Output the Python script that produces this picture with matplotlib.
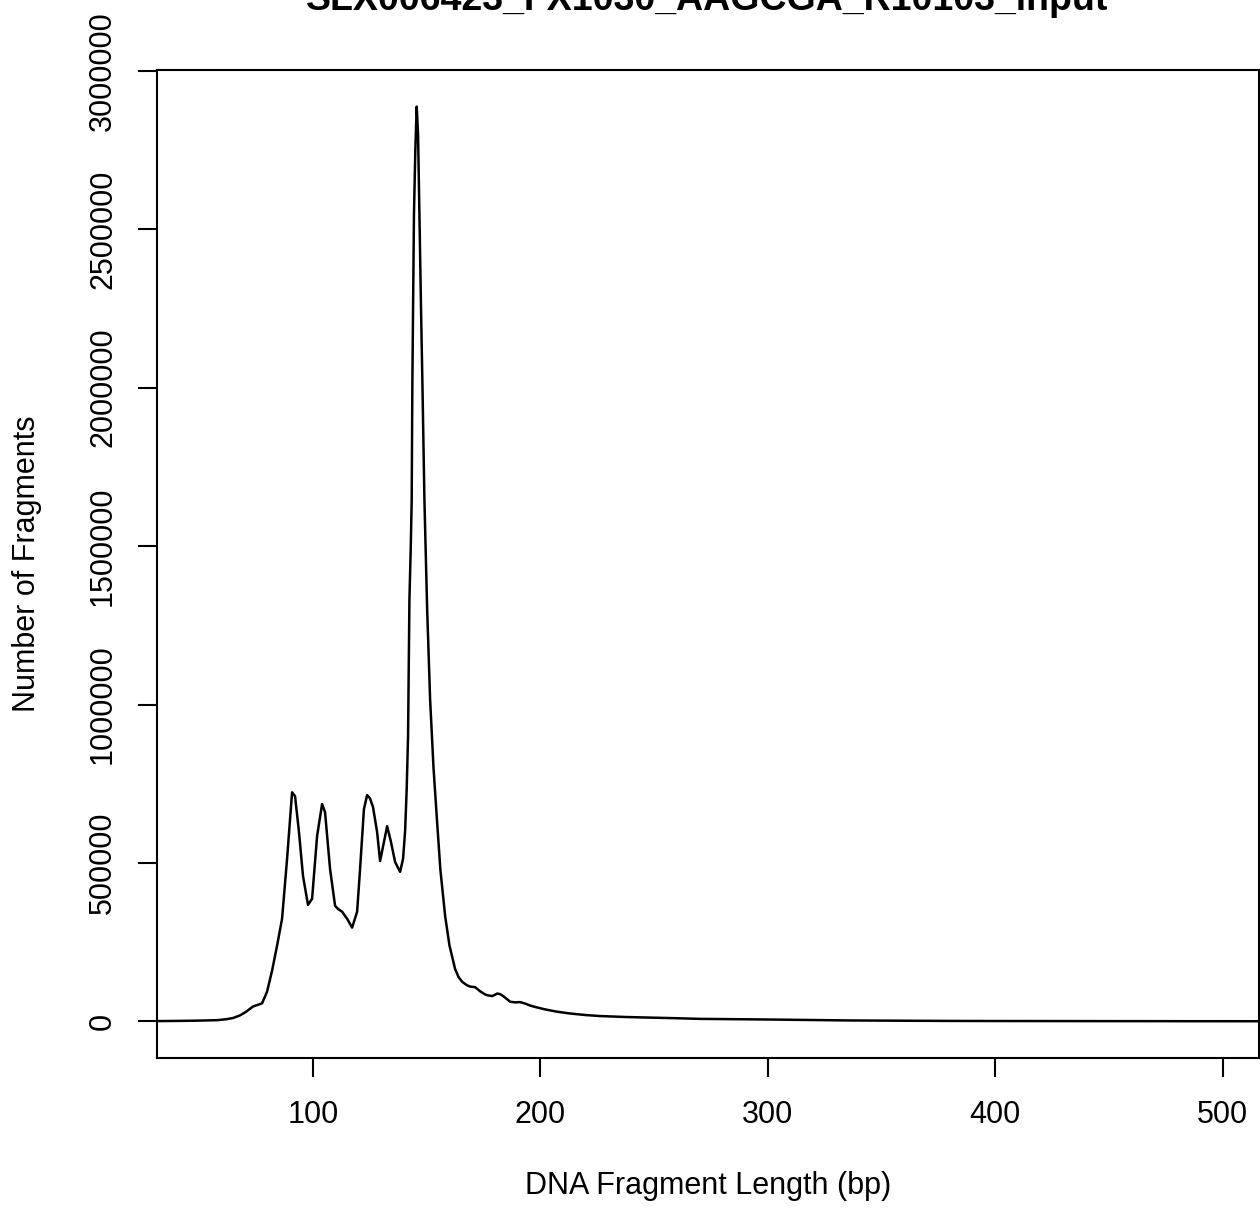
import matplotlib
matplotlib.use("Agg")
import matplotlib.pyplot as plt

plt.rcParams['font.family'] = ['Liberation Sans', 'DejaVu Sans']

title = "SLX006423_FX1030_AAGCGA_R10103_input"
xlabel = "DNA Fragment Length (bp)"
ylabel = "Number of Fragments"

frag_len = [31, 40, 50, 58, 62, 65, 67.9, 70.5, 73.6, 77.6, 79.8, 82, 84.2, 86.4, 88.6,
            90.8, 92.1, 93.8, 95.6, 97.8, 99.6, 101.8, 104, 105.3, 107.5, 109.7, 111,
            112.8, 115, 117.2, 119.4, 120.7, 122.4, 123.8, 125, 126.4, 128.2, 129.5, 131.2,
            132.6, 134.3, 136.1, 138.3, 139.6, 140.5, 141.2, 141.8, 142.4, 143, 143.4,
            143.7, 144.4, 145, 145.6, 146.2, 146.8, 147.5, 148.1, 149, 150.2, 151.5, 153,
            154.4, 156, 158.1, 160, 162.5, 164, 165.6, 167.5, 169, 171.3, 173.5, 175.7, 177,
            178.8, 180, 181, 182.3, 183.6, 185, 186.7, 189, 191, 193, 195.5, 198, 202, 207,
            213, 220, 226, 237, 248, 260, 270, 285, 300, 318, 336, 358, 380, 400, 430, 460,
            490, 516]
counts = [1000, 1500, 2500, 4000, 7000, 11000, 19000, 30000, 47000, 57000, 94000, 160000,
          239000, 324000, 513000, 723000, 711000, 600000, 459000, 368000, 387000, 585000,
          686000, 660000, 481000, 365000, 355000, 346000, 324000, 296000, 346000, 481000,
          670000, 714000, 705000, 676000, 597000, 506000, 566000, 616000, 566000, 503000,
          472000, 513000, 600000, 733000, 900000, 1330000, 1500000, 1645000, 2020000,
          2547000, 2750000, 2887000, 2800000, 2547000, 2250000, 2020000, 1645000, 1300000,
          1016000, 800000, 648000, 480000, 333000, 240000, 165000, 140000, 125000, 115000,
          110000, 108000, 95000, 85000, 82000, 80000, 84000, 88000, 86000, 80000, 72000,
          62000, 60000, 61000, 57000, 50000, 45000, 38000, 31000, 25000, 20000, 17000,
          14000, 12000, 10000, 8000, 7000, 6000, 4500, 3000, 2200, 1500, 1200, 1000, 800,
          600, 500]

x_ticks = [100, 200, 300, 400, 500]
y_ticks = [0, 500000, 1000000, 1500000, 2000000, 2500000, 3000000]

fig = plt.figure(figsize=(12.6, 12.14), dpi=100)
ax = fig.add_axes([157/1260, (1214-1058)/1214, (1259-157)/1260, (1058-70)/1214])
ax.plot(frag_len, counts, color='black', linewidth=1.8)
ax.set_xlim(31.4, 516)
ax.set_ylim(-115500, 3002500)

ax.set_xticks(x_ticks)
ax.set_xticklabels([str(v) for v in x_ticks])
ax.set_yticks(y_ticks)
ax.set_yticklabels([str(v) for v in y_ticks], rotation=90, va='center')
ax.tick_params(axis='both', length=14, width=1.5, labelsize=22, direction='out')
ax.tick_params(axis='x', pad=16)
ax.tick_params(axis='y', pad=14)
for s in ax.spines.values():
    s.set_linewidth(1.5)

ax.set_xlabel(xlabel, fontsize=22, labelpad=30)
ax.set_ylabel(ylabel, fontsize=22, labelpad=33)
fig.text(0.5615, 1 - 10/1214, title, fontsize=27, fontweight='bold', ha='center', va='baseline')

fig.savefig("out.png", dpi=100)
